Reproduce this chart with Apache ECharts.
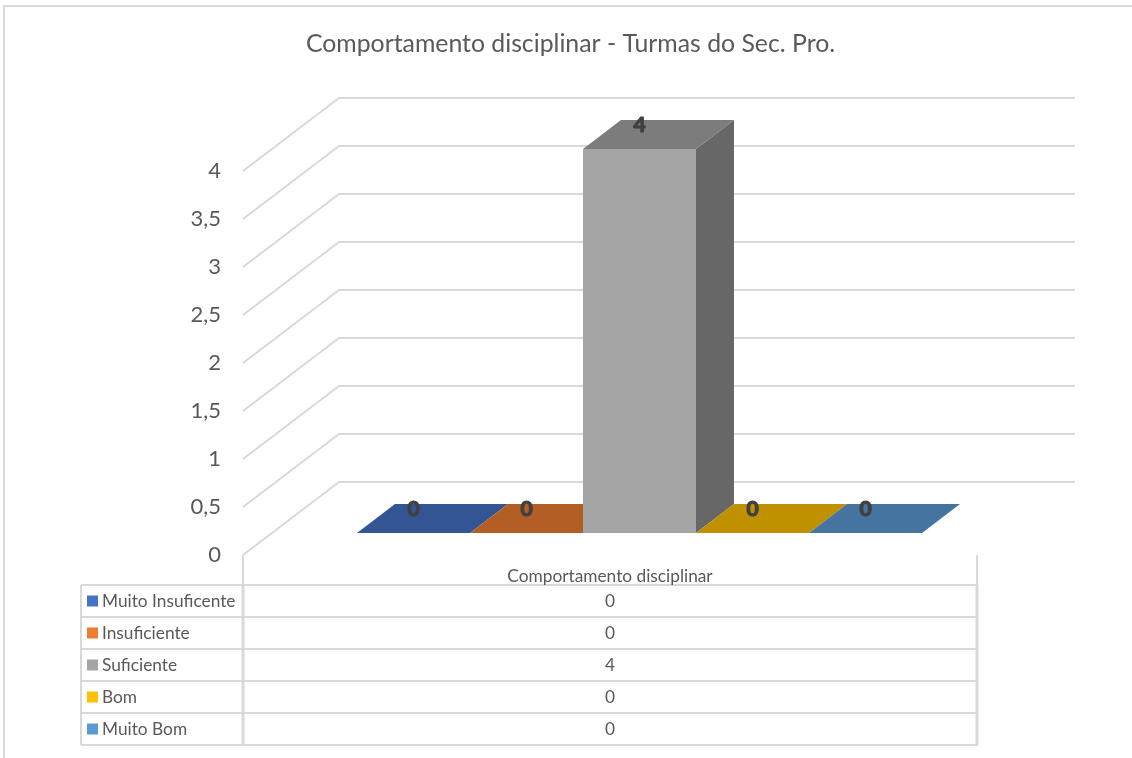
<!DOCTYPE html>
<html>
<head>
<meta charset="utf-8">
<style>html,body{margin:0;padding:0;background:#fff}#c{width:1132px;height:758px}</style>
<script src="https://cdn.jsdelivr.net/npm/echarts@6/dist/echarts.min.js"></script>
</head>
<body>
<div id="c"></div>
<script>
const titleText = 'Comportamento disciplinar - Turmas do Sec. Pro.';
const axisCategory = 'Comportamento disciplinar';
const seriesNames = ['Muito Insuficente', 'Insuficiente', 'Suficiente', 'Bom', 'Muito Bom'];
const seriesValues = [0, 0, 4, 0, 0];
const yTicks = [0, 0.5, 1, 1.5, 2, 2.5, 3, 3.5, 4];
const frontColors = ['#4472c4', '#ed7d31', '#a5a5a5', '#ffc000', '#5b9bd5'];
const topColors = ['#335593', '#b25e25', '#7c7c7c', '#bf9000', '#44749f'];
const sideColors = ['#29447a', '#8e4b1d', '#676767', '#997300', '#365d80'];

const FONT = 'Lato';
const LINE = '#d9d9d9';
const TEXT = '#595959';
const wallDepth = [96, -73];
const barDepth = [38, -29];
const tbl = { left: 81, col: 243, right: 978, top: 585, rowH: 32 };

const chart = echarts.init(document.getElementById('c'), null, { renderer: 'canvas' });

function tableGraphics() {
  const g = [];
  const line = (x1, y1, x2, y2, w) => g.push({
    type: 'line', silent: true, z: 1,
    shape: { x1, y1, x2, y2 }, style: { stroke: LINE, lineWidth: w || 2 }
  });
  g.push({ type: 'polyline', silent: true, z: 1, shape: { points: [[4, 758], [4, 6], [1132, 6]] }, style: { stroke: LINE, lineWidth: 2, fill: null } });
  const bottom = tbl.top + tbl.rowH * seriesNames.length;
  for (let i = 0; i <= seriesNames.length; i++) line(tbl.left, tbl.top + i * tbl.rowH, tbl.right, tbl.top + i * tbl.rowH);
  line(tbl.left, tbl.top, tbl.left, bottom);
  line(tbl.col, 555, tbl.col, tbl.top, 2);
  line(tbl.col, tbl.top, tbl.col, bottom, 3);
  line(tbl.right - 1, 555, tbl.right - 1, tbl.top, 2);
  line(tbl.right - 1, tbl.top, tbl.right - 1, bottom, 3);
  const txt = (x, y, text, align) => g.push({ type: 'text', silent: true, z: 2, style: { x, y, text, fontFamily: FONT, fontSize: 17.3, fill: TEXT, textAlign: align, textVerticalAlign: 'middle' } });
  txt(610, 576, axisCategory, 'center');
  seriesNames.forEach((name, i) => {
    const cy = tbl.top + tbl.rowH * i + tbl.rowH / 2;
    g.push({ type: 'rect', silent: true, z: 2, shape: { x: 87, y: cy - 5.5, width: 11, height: 11 }, style: { fill: frontColors[i] } });
    txt(102, cy, name, 'left');
    txt(610, cy, String(seriesValues[i]), 'center');
  });
  return g;
}

function renderBar(params, api) {
  const i = api.value(0), v = api.value(1);
  const base = api.coord([i, 0]);
  const top = api.coord([i, v]);
  const w = api.size([1, 0])[0];
  const xl = base[0] - w / 2, xr = base[0] + w / 2;
  const dx = barDepth[0], dy = barDepth[1];
  const children = [];
  const poly = (points, fill) => children.push({ type: 'polygon', shape: { points }, style: { fill } });
  if (v > 0) {
    poly([[xl, base[1]], [xr, base[1]], [xr, top[1]], [xl, top[1]]], frontColors[i]);
    poly([[xr, base[1]], [xr + dx, base[1] + dy], [xr + dx, top[1] + dy], [xr, top[1]]], sideColors[i]);
  }
  poly([[xl, top[1]], [xr, top[1]], [xr + dx, top[1] + dy], [xl + dx, top[1] + dy]], topColors[i]);
  children.push({
    type: 'text',
    style: { x: base[0], y: top[1] + dy + 5, text: String(v), fontFamily: FONT, fontWeight: 'bold', fontSize: 21, fill: '#404040', stroke: '#404040', lineWidth: 1.2, textAlign: 'center', textVerticalAlign: 'middle' }
  });
  return { type: 'group', children };
}

function renderDiagonal(params, api) {
  const p = api.coord([0, api.value(0)]);
  return { type: 'line', silent: true, shape: { x1: p[0], y1: p[1], x2: p[0] + wallDepth[0], y2: p[1] + wallDepth[1] }, style: { stroke: LINE, lineWidth: 2, fill: null } };
}

const hiddenX = g => ({ gridIndex: g, type: 'value', min: 0, max: 1, show: false });
const yBase = g => ({ gridIndex: g, type: 'value', min: 0, max: 4, interval: 0.5 });

chart.setOption({
  animation: false,
  backgroundColor: '#fff',
  title: { text: titleText, left: 565.5, top: 27, textAlign: 'center', textStyle: { fontFamily: FONT, fontSize: 24.8, fontWeight: 'normal', color: TEXT } },
  grid: [
    { left: 243, top: 171, width: 733, height: 384 },
    { left: 339, top: 98, width: 736, height: 384 },
    { left: 357, top: 149, width: 565, height: 384 }
  ],
  xAxis: [hiddenX(0), hiddenX(1), { gridIndex: 2, type: 'category', data: seriesNames, show: false }],
  yAxis: [
    Object.assign(yBase(0), {
      axisLine: { show: false }, axisTick: { show: false }, splitLine: { show: false },
      axisLabel: { fontFamily: FONT, fontSize: 22, color: TEXT, margin: 22, formatter: v => String(v).replace('.', ',') }
    }),
    Object.assign(yBase(1), {
      axisLine: { show: false }, axisTick: { show: false }, axisLabel: { show: false },
      splitLine: { show: true, lineStyle: { color: LINE, width: 2 } }
    }),
    Object.assign(yBase(2), { show: false })
  ],
  graphic: tableGraphics(),
  series: [
    { type: 'custom', xAxisIndex: 0, yAxisIndex: 0, clip: false, z: 3, silent: true, renderItem: renderDiagonal, encode: { y: 0 }, data: yTicks.map(t => [t]) },
    { type: 'custom', xAxisIndex: 2, yAxisIndex: 2, clip: false, z: 5, silent: true, renderItem: renderBar, encode: { x: 0, y: 1 }, data: seriesValues.map((v, i) => [i, v]) }
  ]
});
</script>
</body>
</html>
